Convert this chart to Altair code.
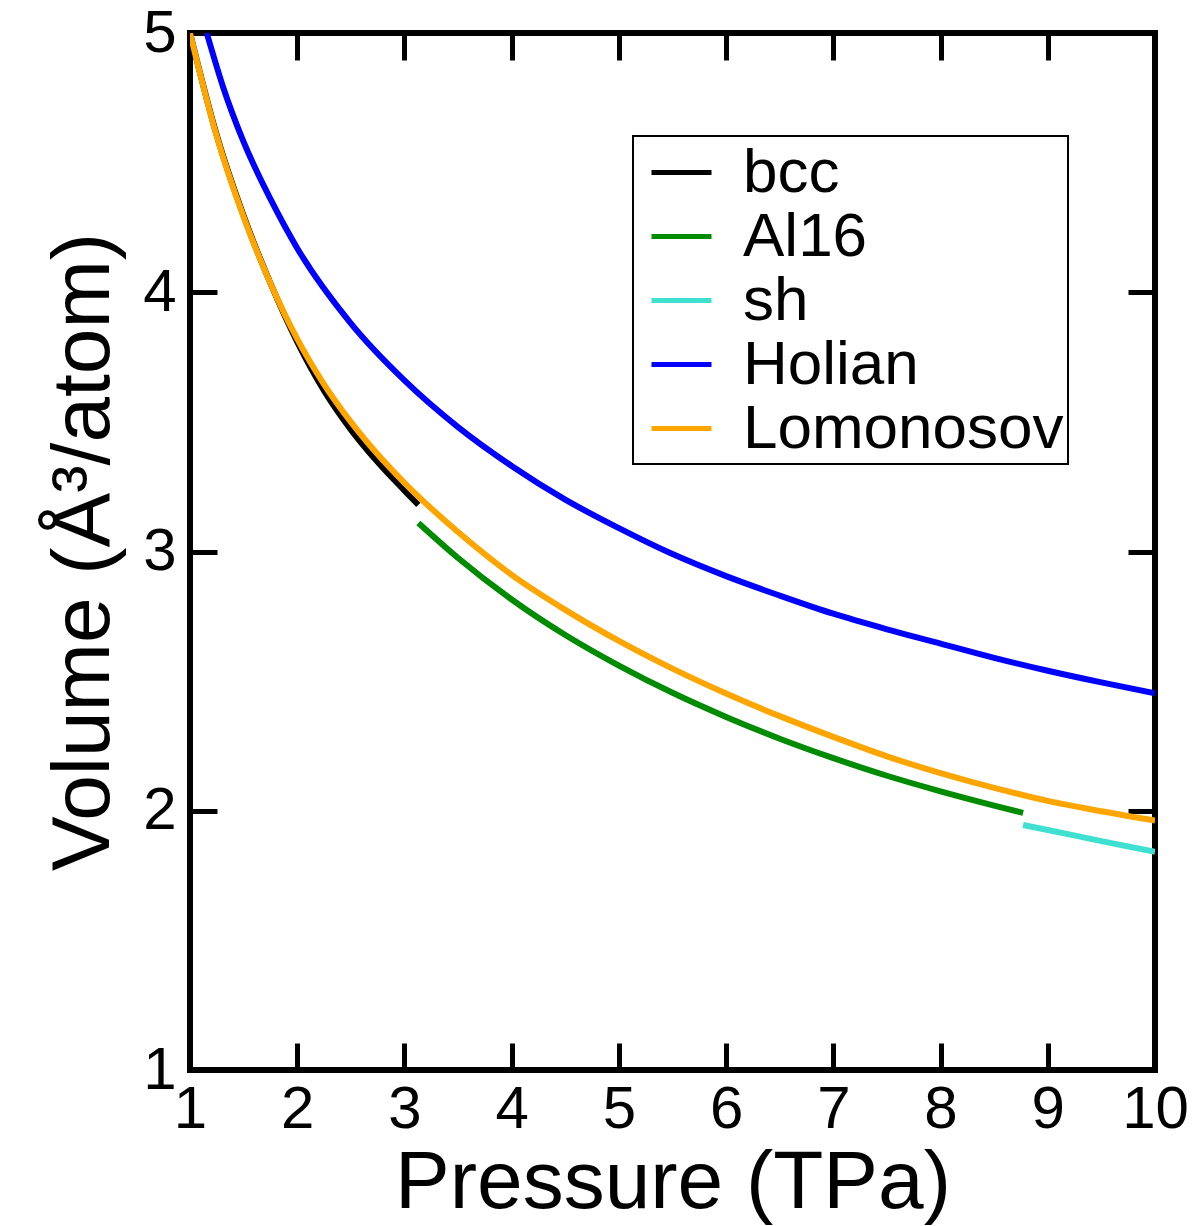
import altair as alt
import pandas as pd

# ---- data ----
series_names = ["bcc", "Al16", "sh", "Holian", "Lomonosov"]
series_colors = ["#000000", "#008B00", "#40E0D0", "#0000FF", "#FFA500"]

bcc_p = [1.0, 1.25, 1.5, 1.75, 2.0, 2.25, 2.5, 2.75, 3.0, 3.13]
bcc_v = [5.0, 4.605, 4.295, 4.035, 3.808, 3.62, 3.47, 3.345, 3.235, 3.18]

al16_p = [3.13, 3.5, 4.0, 4.5, 5.0, 5.5, 6.0, 6.5, 7.0, 7.5, 8.0, 8.5, 8.77]
al16_v = [3.11, 2.975, 2.815, 2.678, 2.56, 2.455, 2.362, 2.278, 2.203, 2.135, 2.075, 2.02, 1.992]

sh_p = [8.77, 9.0, 9.5, 10.0]
sh_v = [1.945, 1.926, 1.883, 1.842]

holian_p = [1.156, 1.31, 1.5, 1.75, 2.0, 2.5, 3.0, 3.5, 4.0, 4.5, 5.0, 5.5, 6.0, 6.5, 7.0, 7.5, 8.0, 8.5, 9.0, 9.5, 10.0]
holian_v = [5.0, 4.79, 4.58, 4.36, 4.17, 3.88, 3.66, 3.48, 3.33, 3.20, 3.09, 2.99, 2.905, 2.83, 2.76, 2.70, 2.645, 2.59, 2.54, 2.495, 2.453]

lomo_p = [1.0, 1.25, 1.5, 1.75, 2.0, 2.25, 2.5, 2.75, 3.0, 3.5, 4.0, 4.5, 5.0, 5.5, 6.0, 6.5, 7.0, 7.5, 8.0, 8.5, 9.0, 9.5, 10.0]
lomo_v = [5.0, 4.60, 4.29, 4.035, 3.82, 3.645, 3.50, 3.375, 3.265, 3.075, 2.91, 2.775, 2.655, 2.548, 2.452, 2.365, 2.285, 2.21, 2.145, 2.088, 2.038, 1.998, 1.962]

x_ticks = [1, 2, 3, 4, 5, 6, 7, 8, 9, 10]
y_ticks = [1, 2, 3, 4, 5]

rows = []
for name, ps, vs in [("bcc", bcc_p, bcc_v), ("Al16", al16_p, al16_v), ("sh", sh_p, sh_v),
                     ("Holian", holian_p, holian_v), ("Lomonosov", lomo_p, lomo_v)]:
    for i, (p, v) in enumerate(zip(ps, vs)):
        rows.append({"series": name, "P": p, "V": v, "i": i})
df = pd.DataFrame(rows)

FONT = "Liberation Sans"
xscale = alt.Scale(domain=[1, 10], nice=False, zero=False)
yscale = alt.Scale(domain=[1, 5], nice=False, zero=False)

tick_axis = dict(
    domain=False, grid=False, tickSize=27, tickWidth=5, tickColor="black",
    offset=-27, labelFont=FONT, labelFontSize=60, labelColor="black",
    labelOverlap=False, labelBound=False, labelFlush=False,
)
title_style = dict(titleFont=FONT, titleFontSize=82, titleFontWeight="normal", titleColor="black")

lines = alt.Chart(df).mark_line(strokeWidth=6, interpolate="monotone", clip=True).encode(
    x=alt.X("P:Q", scale=xscale,
            axis=alt.Axis(orient="bottom", values=x_ticks, format="d", title="Pressure (TPa)",
                          labelPadding=10, titlePadding=3, **tick_axis, **title_style)),
    y=alt.Y("V:Q", scale=yscale,
            axis=alt.Axis(orient="left", values=y_ticks, format="d", title="Volume (Å³/atom)",
                          labelPadding=14, titlePadding=17, **tick_axis, **title_style)),
    color=alt.Color("series:N", sort=series_names,
                    scale=alt.Scale(domain=series_names, range=series_colors),
                    legend=alt.Legend(title=None, orient="none", legendX=443, legendY=103,
                                      symbolType="stroke", symbolSize=3600, symbolStrokeWidth=5,
                                      labelFont=FONT, labelFontSize=62, labelColor="black",
                                      labelLimit=0,
                                      symbolOffset=12, labelOffset=29, rowPadding=-5, padding=4,
                                      strokeColor="black", fillColor="white")),
    order=alt.Order("i:Q"),
)

frame_axes = alt.Chart(df).mark_point(opacity=0).encode(
    x=alt.X("P:Q", scale=xscale,
            axis=alt.Axis(orient="top", values=x_ticks, labels=False, title=None, **tick_axis)),
    y=alt.Y("V:Q", scale=yscale,
            axis=alt.Axis(orient="right", values=y_ticks, labels=False, title=None, **tick_axis)),
)

chart = alt.layer(lines, frame_axes).resolve_axis(x="independent", y="independent").properties(
    width=965, height=1037,
    autosize=alt.AutoSizeParams(type="none"),
    padding={"left": 182, "top": 25, "right": 33, "bottom": 156},
).configure_view(stroke="black", strokeWidth=6).configure_legend(strokeWidth=2)

chart.save("out.html", embed_options={"renderer": "svg", "actions": False})
